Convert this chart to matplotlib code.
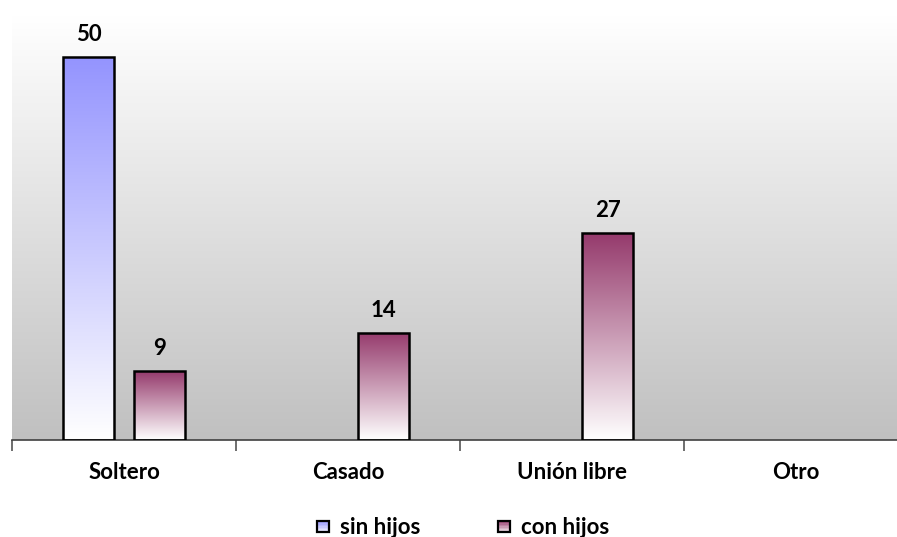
import matplotlib
matplotlib.use('Agg')
import matplotlib.pyplot as plt
import numpy as np
from matplotlib.colors import LinearSegmentedColormap
from matplotlib.patches import Rectangle
from matplotlib.legend_handler import HandlerBase

categories = ['Soltero', 'Casado', 'Unión libre', 'Otro']
sin_hijos = [50, 0, 0, 0]
con_hijos = [9, 14, 27, 0]
series_names = ['sin hijos', 'con hijos']

plt.rcParams['font.family'] = ['Lato', 'DejaVu Sans']
FS = 16

##gradient maps, light at bottom, strong at top
sin_cmap = LinearSegmentedColormap.from_list('sin', ['#ffffff', '#9494fe'])
con_cmap = LinearSegmentedColormap.from_list('con', ['#ffffff', '#953a6c'])
bg_cmap = LinearSegmentedColormap.from_list('bg', ['#c0c0c0', '#ffffff'])

fig = plt.figure(figsize=(8.97, 5.37), dpi=100)
ax = fig.add_axes([12/897, 97/537, 885/897, 425/537])

## plot area background gradient
grad = np.linspace(0, 1, 256).reshape(-1, 1)
ax.imshow(grad, cmap=bg_cmap, origin='lower', aspect='auto',
          extent=[0, 1, 0, 1], transform=ax.transAxes, zorder=0)

x = np.arange(len(categories))
width = 0.228
off = 0.158

def gradient_bars(vals, pos, cmap):
    bars = ax.bar(pos, vals, width, facecolor='none', edgecolor='black',
                  linewidth=1.8, zorder=3)
    for b, v in zip(bars, vals):
        if v == 0:
            b.set_visible(False)
            continue
        x0, w, h = b.get_x(), b.get_width(), b.get_height()
        im = ax.imshow(grad, cmap=cmap, origin='lower', aspect='auto',
                       extent=[x0, x0 + w, 0, h], zorder=2)
        im.set_clip_path(b)
        ax.text(x0 + w / 2, h + 1.6, str(v), ha='center', va='bottom',
                fontsize=FS, fontweight='bold', color='black')
    return bars

gradient_bars(sin_hijos, x - off, sin_cmap)
gradient_bars(con_hijos, x + off, con_cmap)

for s in ('left', 'right', 'top'):
    ax.spines[s].set_visible(False)
ax.spines['bottom'].set_color('#404040')
ax.spines['bottom'].set_linewidth(1.2)
ax.set_yticks([])

ax.set_xticks(np.arange(-0.5, 3.5, 1))
ax.set_xticklabels([])
ax.set_xticks(x, minor=True)
ax.set_xticklabels(categories, minor=True, fontsize=FS, fontweight='bold')
ax.tick_params(axis='x', which='major', length=8, color='#555555', width=1.2)
ax.tick_params(axis='x', which='minor', length=0, pad=16)

ax.set_xlim(-0.5, 3.45)
ax.set_ylim(0, 55.5)


class GradientHandler(HandlerBase):
    def __init__(self, cmap):
        HandlerBase.__init__(self)
        self.cmap = cmap

    def create_artists(self, legend, orig_handle, xdescent, ydescent,
                       width, height, fontsize, trans):
        size = 8.5
        x0 = width - size
        y0 = -ydescent + (height - size) / 2 - 0.5
        arts = []
        n = 8
        for i in range(n):
            r = Rectangle((x0, y0 + i * size / n), size, size / n,
                          facecolor=self.cmap(0.15 + 0.85 * i / (n - 1)),
                          edgecolor='none', transform=trans)
            arts.append(r)
        arts.append(Rectangle((x0, y0), size, size, facecolor='none',
                              edgecolor='black', linewidth=1.6,
                              transform=trans))
        return arts

h1 = Rectangle((0, 0), 1, 1)
h2 = Rectangle((0, 0), 1, 1)
fig.legend([h1, h2], series_names, loc='center', ncol=2,
           bbox_to_anchor=(463/897, 1 - 527/537), frameon=False,
           handler_map={h1: GradientHandler(sin_cmap), h2: GradientHandler(con_cmap)},
           prop={'weight': 'bold', 'size': FS}, handlelength=0.53,
           handletextpad=0.5, columnspacing=3.5)

fig.savefig('out.png', dpi=100)
